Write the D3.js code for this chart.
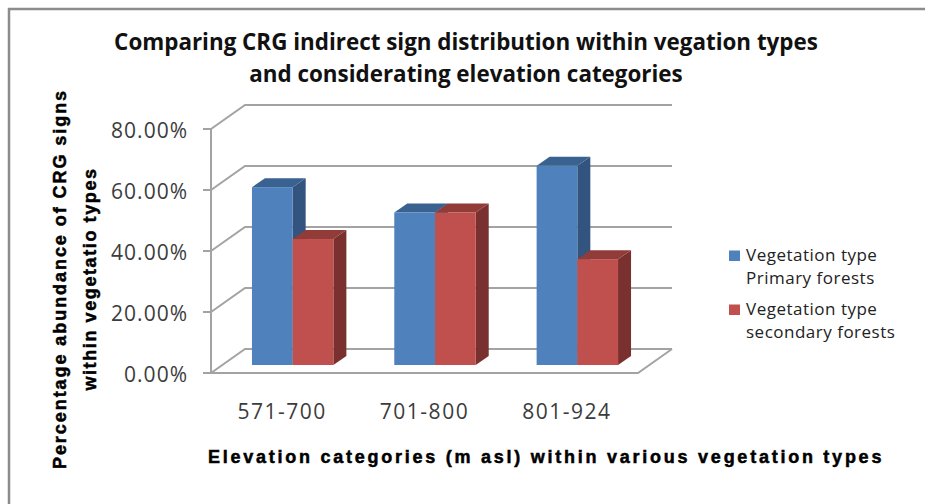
<!DOCTYPE html>
<html><head><meta charset="utf-8">
<script src="https://cdnjs.cloudflare.com/ajax/libs/d3/7.8.5/d3.min.js"></script>
<style>html,body{margin:0;padding:0;background:#fff}svg{display:block}text{font-family:"Open Sans",sans-serif}</style>
</head><body><svg id="c" width="925" height="504"></svg>
<script>
const categories = ["571-700","701-800","801-924"];
const seriesNames = [["Vegetation type","Primary forests"],["Vegetation type","secondary forests"]];
const primary = [58.3,50,65.3];
const secondary = [41.3,50,34.7];
const ticks = [0,20,40,60,80];
const faceColors = ["#4f81bd","#c0504d"];
const topColors = ["#3a6290","#923c39"];
const sideColors = ["#32547e","#79302e"];
const titleLines = ["Comparing CRG indirect sign distribution within vegation types","and considerating elevation categories"];
const yTitleLines = ["Percentage abundance of CRG signs","within vegetatio types"];
const xTitle = "Elevation categories (m asl) within various vegetation types";

const svg = d3.select("#c");
svg.append("path").attr("d","M925,9H9V504").attr("fill","none").attr("stroke","#8c8c8c").attr("stroke-width",2.5);

const x0 = d3.scaleBand().domain(categories).range([211,638]);
const gap = 0.214;
const x1 = d3.scaleBand().domain([0,1]).range([x0.bandwidth()*gap, x0.bandwidth()*(1-gap)]);
const y = d3.scaleLinear().domain([0,80]).range([373,129]);
const wall = {dx:34,dy:24}, bar = {ox:10.5,oy:8,dx:13,dy:9};
const grid = "#a3a3a3";
const labelColor = "#3c3c3c";

const g = svg.append("g");
ticks.forEach(t=>{
  g.append("path").attr("d",`M${x0.range()[0]},${y(t)}L${x0.range()[0]+wall.dx},${y(t)-wall.dy}H${x0.range()[1]+wall.dx}`)
   .attr("fill","none").attr("stroke",grid).attr("stroke-width",2);
  g.append("line").attr("x1",x0.range()[0]-8).attr("x2",x0.range()[0]).attr("y1",y(t)).attr("y2",y(t)).attr("stroke",grid).attr("stroke-width",2);
  g.append("text").attr("x",188).attr("y",y(t)+9).attr("text-anchor","end").attr("font-size",21).attr("letter-spacing",1).attr("fill",labelColor).text(t.toFixed(2)+"%");
});
g.append("line").attr("x1",211).attr("x2",211).attr("y1",y(80)).attr("y2",y(0)).attr("stroke",grid).attr("stroke-width",2);
g.append("path").attr("d",`M211,${y(0)}H${x0.range()[1]}L${x0.range()[1]+wall.dx},${y(0)-wall.dy}`).attr("fill","none").attr("stroke",grid).attr("stroke-width",2);

categories.forEach((c,i)=>{
  [primary[i],secondary[i]].forEach((v,s)=>{
    const xl = x0(c)+x1(s)+bar.ox, w = x1.bandwidth(), yt = y(v)-bar.oy, yb = y(0)-bar.oy;
    g.append("path").attr("d",`M${xl+w},${yt}l${bar.dx},${-bar.dy}V${yb-bar.dy}l${-bar.dx},${bar.dy}Z`).attr("fill",sideColors[s]);
    g.append("path").attr("d",`M${xl},${yt}l${bar.dx},${-bar.dy}h${w}l${-bar.dx},${bar.dy}Z`).attr("fill",topColors[s]);
    g.append("rect").attr("x",xl).attr("y",yt).attr("width",w).attr("height",yb-yt).attr("fill",faceColors[s]);
  });
  g.append("text").attr("x",x0(c)+x0.bandwidth()/2).attr("y",419).attr("text-anchor","middle").attr("font-size",21).attr("letter-spacing",1.5).attr("fill",labelColor).text(c);
});

titleLines.forEach((t,i)=>svg.append("text").attr("x",466).attr("y",50+i*32).attr("text-anchor","middle").attr("font-size",22.4).attr("font-weight",700).attr("fill","#111").text(t));
const yBase = [66,96], ySpacing = [1.94,1.6];
yTitleLines.forEach((t,i)=>svg.append("text").attr("transform",`translate(${yBase[i]},279) rotate(-90)`).attr("text-anchor","middle").attr("font-size",18).attr("font-weight",700).attr("letter-spacing",ySpacing[i]).attr("fill","#000").attr("stroke","#000").attr("stroke-width",0.5).style("font-family","Liberation Sans").text(t));
svg.append("text").attr("x",208).attr("y",463).attr("font-size",18).attr("font-weight",700).attr("letter-spacing",2.75).attr("fill","#000").attr("stroke","#000").attr("stroke-width",0.5).style("font-family","Liberation Sans").text(xTitle);

seriesNames.forEach((lines,s)=>{
  const top = 250.5+s*54;
  svg.append("rect").attr("x",729).attr("y",top).attr("width",11).attr("height",10.5).attr("fill",faceColors[s]);
  lines.forEach((l,i)=>svg.append("text").attr("x",746).attr("y",top+10.5+i*22.5).attr("font-size",17).attr("letter-spacing",0.5).attr("fill","#222").text(l));
});
</script></body></html>
